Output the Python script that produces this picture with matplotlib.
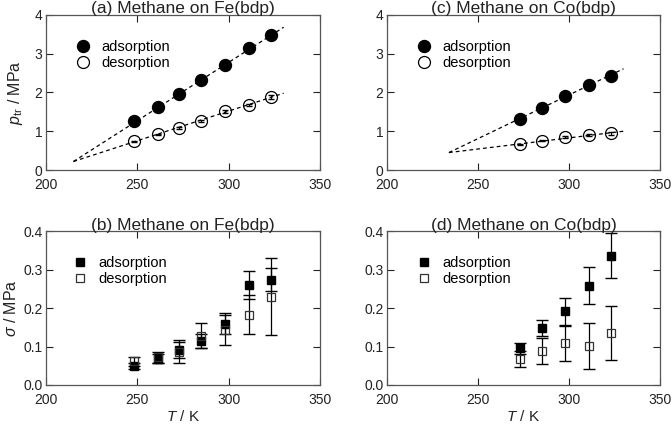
import matplotlib
matplotlib.use("Agg")
import matplotlib.pyplot as plt
import numpy as np

plt.rcParams['font.family'] = ['Liberation Sans', 'DejaVu Sans']
plt.rcParams['mathtext.fontset'] = 'custom'
plt.rcParams['mathtext.it'] = 'Liberation Sans:italic'
plt.rcParams['mathtext.rm'] = 'Liberation Sans'
plt.rcParams['font.size'] = 10

# Fe(bdp) transition pressures
T_fe = [248, 261, 273, 285, 298, 311, 323]
p_ads_fe = [1.26, 1.63, 1.95, 2.32, 2.71, 3.15, 3.48]
p_des_fe = [0.74, 0.92, 1.08, 1.27, 1.51, 1.68, 1.88]
p_des_fe_err = [0.02, 0.02, 0.02, 0.02, 0.03, 0.03, 0.05]
fitT_fe = [215, 330]
fit_ads_fe = [0.22, 3.68]
fit_des_fe = [0.22, 1.98]

# Co(bdp) transition pressures
T_co = [273, 285, 298, 311, 323]
p_ads_co = [1.32, 1.60, 1.90, 2.18, 2.43]
p_des_co = [0.66, 0.76, 0.85, 0.90, 0.95]
p_des_co_err = [0.02, 0.02, 0.03, 0.03, 0.04]
fitT_co = [234, 330]
fit_ads_co = [0.45, 2.61]
fit_des_co = [0.45, 1.0]

# Fe(bdp) sigma
s_ads_fe = [0.050, 0.068, 0.091, 0.115, 0.159, 0.260, 0.274]
s_ads_fe_err = [0.008, 0.012, 0.022, 0.018, 0.027, 0.037, 0.030]
s_des_fe = [0.062, 0.072, 0.087, 0.128, 0.143, 0.183, 0.229]
s_des_fe_err = [0.012, 0.015, 0.029, 0.032, 0.040, 0.050, 0.100]

# Co(bdp) sigma
s_ads_co = [0.095, 0.148, 0.192, 0.258, 0.336]
s_ads_co_err = [0.015, 0.020, 0.035, 0.048, 0.058]
s_des_co = [0.068, 0.088, 0.108, 0.102, 0.134]
s_des_co_err = [0.020, 0.033, 0.045, 0.060, 0.070]

fig = plt.figure(figsize=(6.72, 4.24), dpi=100)
ax_a = fig.add_axes([0.0685, 0.599, 0.408, 0.366])
ax_c = fig.add_axes([0.576, 0.599, 0.406, 0.366])
ax_b = fig.add_axes([0.0685, 0.092, 0.408, 0.363])
ax_d = fig.add_axes([0.576, 0.092, 0.406, 0.363])

ink = '#222222'


def style(ax, ylim, yticks, title):
    ax.set_xlim(200, 350)
    ax.set_xticks([200, 250, 300, 350])
    ax.set_ylim(*ylim)
    ax.set_yticks(yticks)
    ax.tick_params(direction='in', top=True, right=True, length=5, width=0.8,
                   colors=ink, labelsize=10)
    ax.tick_params(axis='x', pad=6)
    ax.tick_params(axis='y', pad=2.5)
    for s in ax.spines.values():
        s.set_color('#555555')
        s.set_linewidth(0.9)
    ax.set_title(title, fontsize=12.5, pad=1, color=ink)


def legend(ax, h1, h2, x0, y0):
    ax.legend([h1, h2], ['adsorption', 'desorption'], loc='upper left',
              bbox_to_anchor=(x0, y0), frameon=False, handlelength=1.2,
              handletextpad=0.7, labelspacing=0.15, fontsize=10.5, borderpad=0)


# top row
for ax, T, pa, pd, pde, ft, fa, fd, title in [
        (ax_a, T_fe, p_ads_fe, p_des_fe, p_des_fe_err, fitT_fe, fit_ads_fe, fit_des_fe,
         '(a) Methane on Fe(bdp)'),
        (ax_c, T_co, p_ads_co, p_des_co, p_des_co_err, fitT_co, fit_ads_co, fit_des_co,
         '(c) Methane on Co(bdp)')]:
    ax.plot(ft, fa, ls=(0, (3, 2.5)), color='k', lw=0.9)
    ax.plot(ft, fd, ls=(0, (3, 2.5)), color='k', lw=0.9)
    h1, = ax.plot(T, pa, 'o', ms=8.6, mfc='k', mec='k', ls='none')
    ax.errorbar(T, pd, yerr=pde, fmt='none', ecolor='k', elinewidth=0.8, capsize=2)
    h2, = ax.plot(T, pd, 'o', ms=8.6, mfc='none', mec='k', mew=0.9, ls='none')
    style(ax, (0, 4), [0, 1, 2, 3, 4], title)
    legend(ax, h1, h2, 0.075, 0.885)
ax_a.set_ylabel('$p_{\\mathrm{tr}}$ / MPa', color=ink, fontsize=11.5, labelpad=7)

# bottom row
for ax, T, sa, sae, sd, sde, title in [
        (ax_b, T_fe, s_ads_fe, s_ads_fe_err, s_des_fe, s_des_fe_err, '(b) Methane on Fe(bdp)'),
        (ax_d, T_co, s_ads_co, s_ads_co_err, s_des_co, s_des_co_err, '(d) Methane on Co(bdp)')]:
    ax.errorbar(T, sa, yerr=sae, fmt='none', ecolor='k', elinewidth=0.9, capsize=4)
    ax.errorbar(T, sd, yerr=sde, fmt='none', ecolor='k', elinewidth=0.9, capsize=4)
    h1, = ax.plot(T, sa, 's', ms=6, mfc='k', mec='k', ls='none')
    h2, = ax.plot(T, sd, 's', ms=6, mfc='none', mec='#333333', mew=0.9, ls='none')
    style(ax, (0, 0.4), [0.0, 0.1, 0.2, 0.3, 0.4], title)
    ax.set_yticklabels(['0.0', '0.1', '0.2', '0.3', '0.4'])
    ax.set_xlabel('$T$ / K', color=ink, fontsize=11, labelpad=1.5)
    legend(ax, h1, h2, 0.065 if ax is ax_b else 0.075, 0.885)
ax_b.set_ylabel('$\\sigma$ / MPa', color=ink, fontsize=11.5, labelpad=3)

fig.savefig('out.png', dpi=100)
